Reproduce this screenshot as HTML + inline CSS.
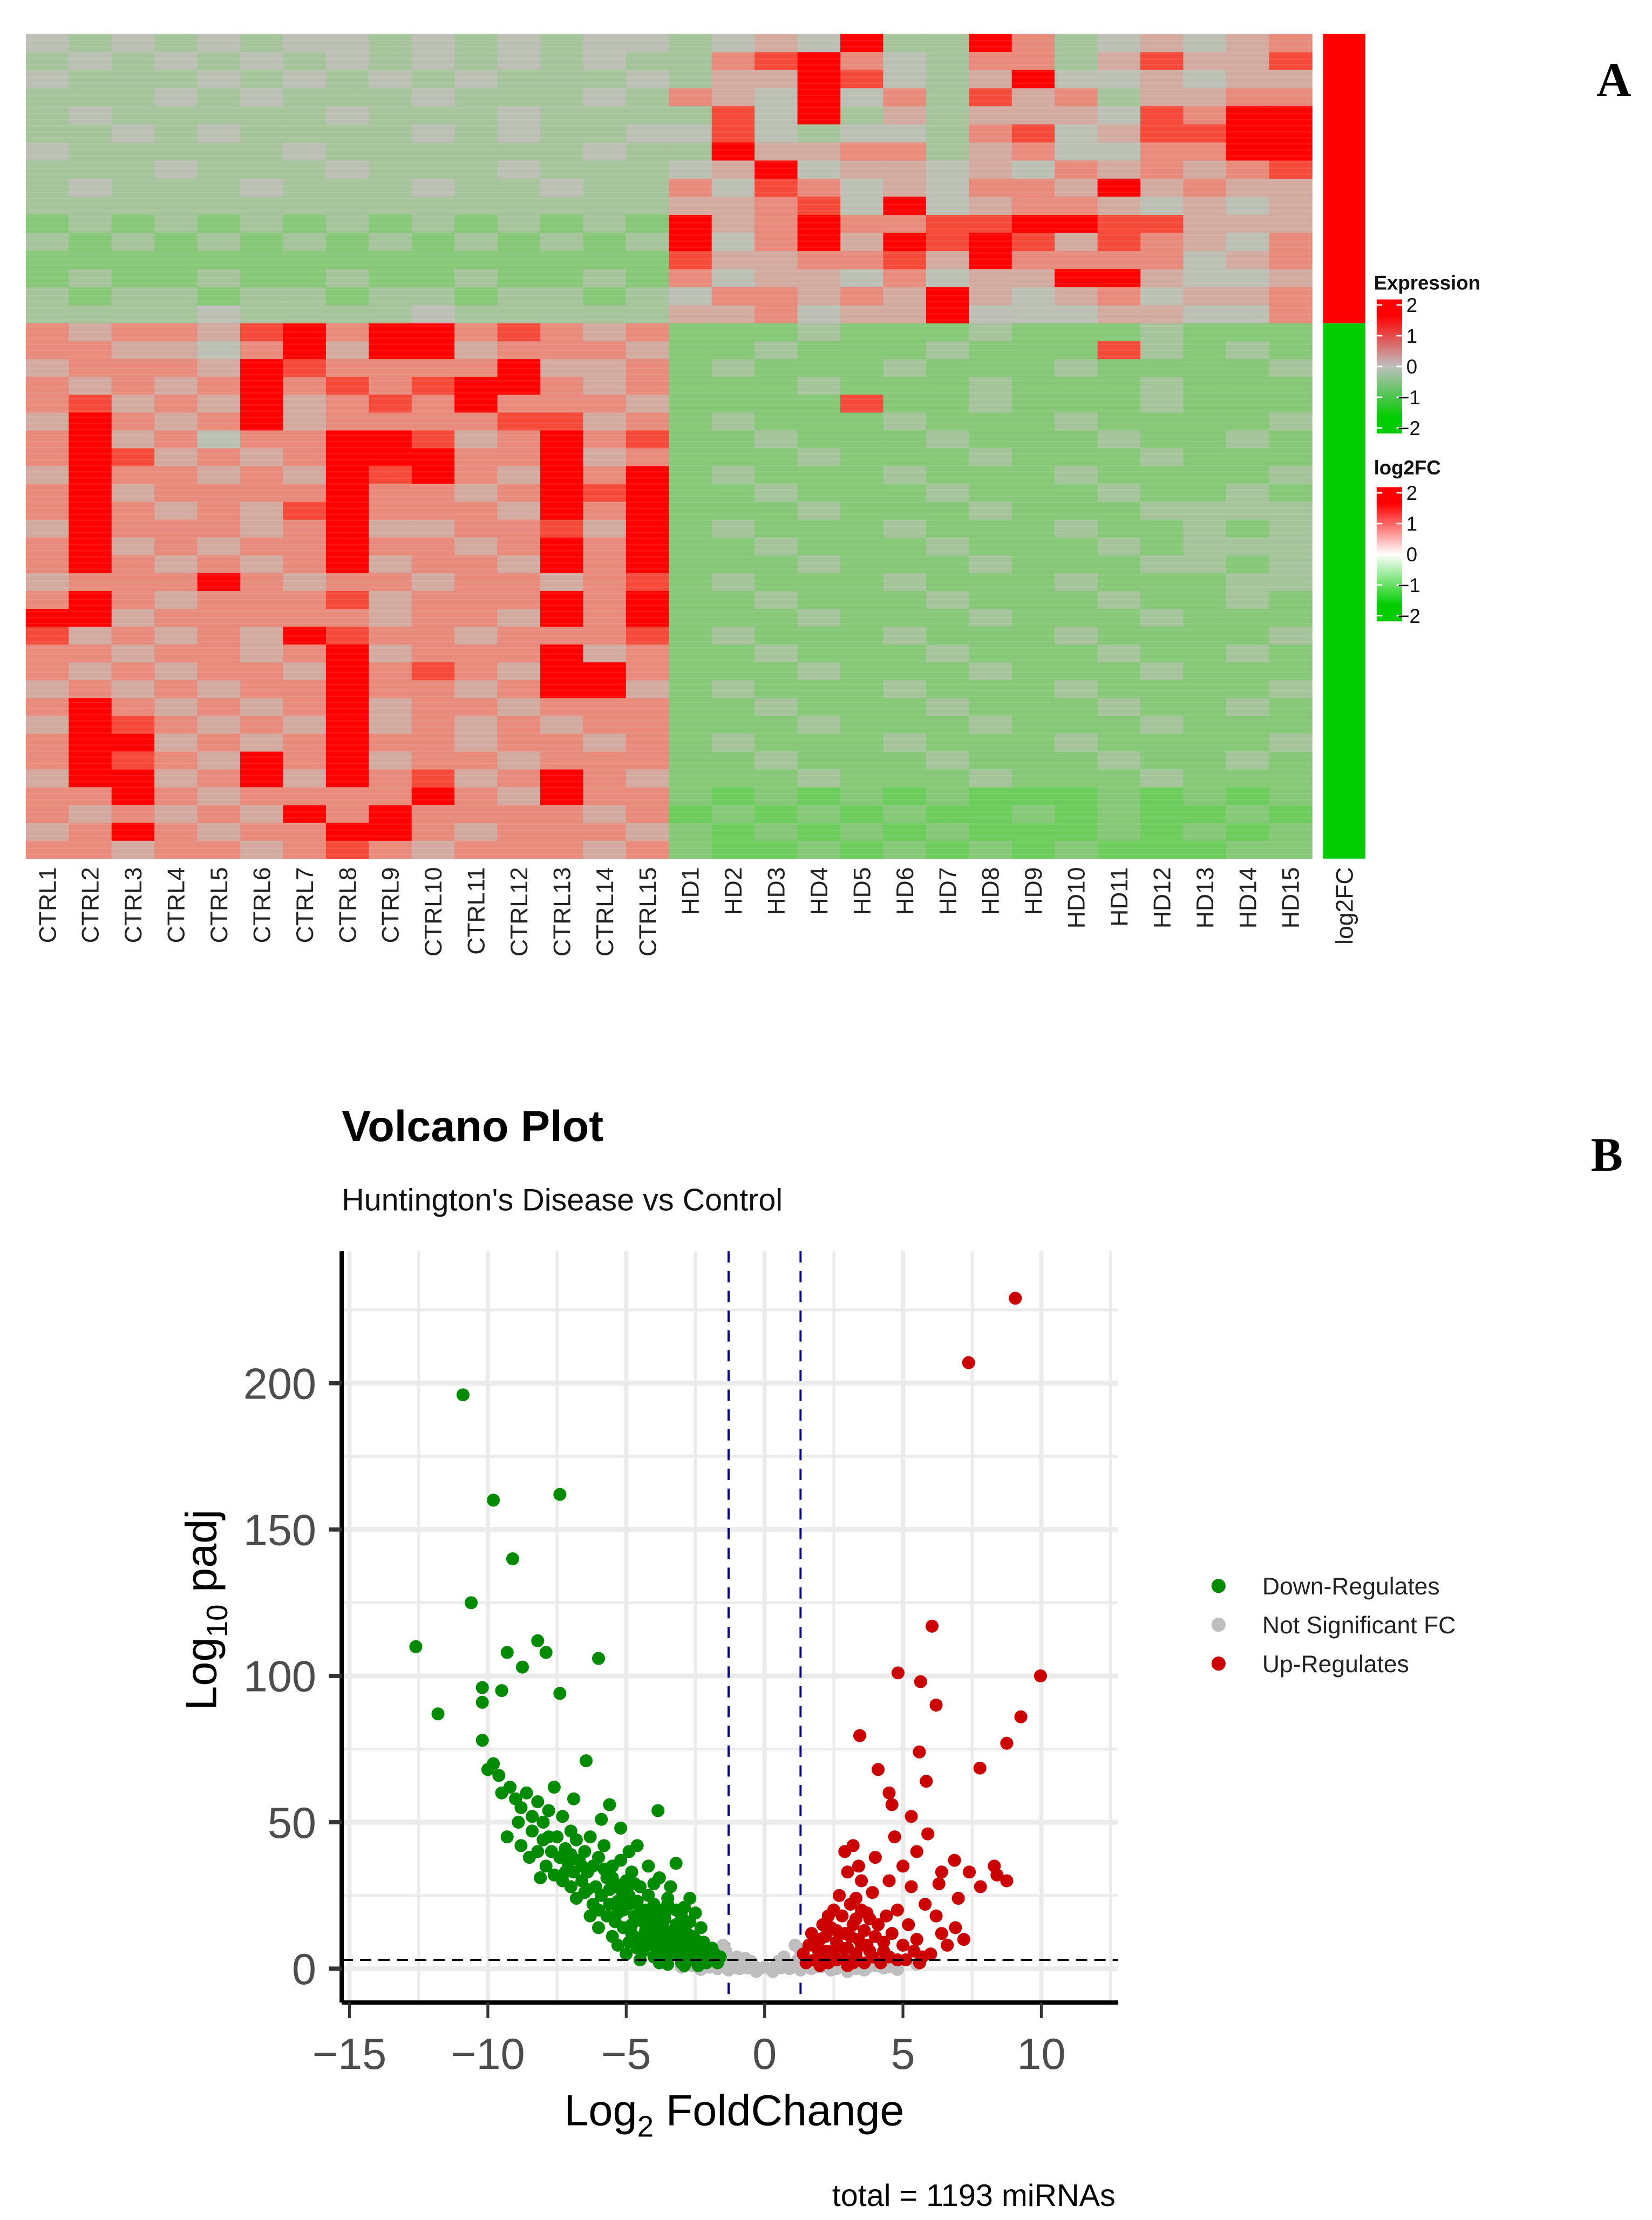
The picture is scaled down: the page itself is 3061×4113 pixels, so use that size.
<!DOCTYPE html>
<html><head><meta charset="utf-8"><style>
html,body{margin:0;padding:0;background:#fff;}
svg{display:block;}
text{font-family:"Liberation Sans",sans-serif;}
</style></head><body>
<svg id="fig" xmlns="http://www.w3.org/2000/svg" width="3061" height="4113" viewBox="0 0 1170 1572" preserveAspectRatio="none">
<rect x="0" y="0" width="1170" height="1572" fill="#fff"/>
<g id="heat"></g>
<g id="volc"></g>
<text x="1143" y="68" text-anchor="middle" font-weight="bold" font-size="34" style="font-family:'Liberation Serif',serif">A</text>
<text x="1138" y="829" text-anchor="middle" font-weight="bold" font-size="34" style="font-family:'Liberation Serif',serif">B</text>
</svg>
<script>
// ---------- Heatmap data ----------
const sampleLabels = ["CTRL1","CTRL2","CTRL3","CTRL4","CTRL5","CTRL6","CTRL7","CTRL8","CTRL9","CTRL10","CTRL11","CTRL12","CTRL13","CTRL14","CTRL15","HD1","HD2","HD3","HD4","HD5","HD6","HD7","HD8","HD9","HD10","HD11","HD12","HD13","HD14","HD15"];
// codes 0..8 map to expression -2..2 (step 0.5)
const topRows = [
"434343443434344345483386345456",
"343434343434343367864366357557",
"433343434343334355874358445455",
"333434333433343654846375635566",
"343333343334333374835355547688",
"334343333434334474344367457788",
"433333433333343385566356446688",
"333433343334333458455454656567",
"343334333433433647645466585655",
"333333333333333556748456654545",
"232323232323232856866778877555",
"323232323232323846858787576546",
"222222222222222755667586666456",
"232232232232232645546455885445",
"323323323323323466565854564556",
"333343333433333556455844455446"];
const bottomRows = [
"656657868867656222322232223222",
"665546858856665223222322273232",
"566658766668556232223222322223",
"656568676788656222322232223222",
"675658567686665222272232223222",
"586568566667756232223222322223",
"685646688756867223222322232232",
"687565688866856222322232223222",
"586656587865868232223222322223",
"685666686656878223222322232232",
"686565786665868222322232223333",
"586665685566758232223222322323",
"685656686656868223222322232333",
"686565685665868222322232223323",
"566686566566567232223222322233",
"686566675666868223222322232232",
"885666665665868222322232223222",
"756565876656667232223222322223",
"665665685666856223222322232232",
"656566586765886222322232223222",
"565656686656885232223222322223",
"686565685665666223222322232232",
"587656585656566222322232223222",
"688565686656656232223222322223",
"687658685665666223222322232232",
"588568586756865222322232223222",
"668656666865866212121211121212",
"656565868666656121212112121121",
"568656688656665212121211121212",
"665665676566656211212121211122"];
const exprPalette = ["#00cc00","#6ccc5c","#86c878","#a6c49c","#bcc0b4","#d2aaa0","#e88a7c","#f54a3a","#ff0000"];

// ---------- Volcano data (log2FC, -log10 padj) ----------
const xTicks = [-15,-10,-5,0,5,10];
const yTicks = [0,50,100,150,200];
const downPts = [[-10.9,196],[-7.4,162],[-9.8,160],[-9.1,140],[-10.6,125],[-12.6,110],[-8.2,112],[-9.3,108],[-7.9,108],[-6.0,106],[-8.75,103],[-11.8,87],[-10.2,96],[-9.5,95],[-10.2,91],[-7.4,94],
[-10.2,78],[-10.0,68],[-9.8,70],[-9.6,66],[-9.5,60],[-9.2,62],[-9.0,58],[-8.8,55],[-8.6,60],[-8.4,52],[-8.2,57],[-8.0,50],[-7.8,54],[-7.5,45],[-7.3,52],[-7.0,47],[-6.8,44],[-6.5,40],[-6.3,45],[-6.0,38],[-5.8,42],[-5.5,35],[-5.2,37],[-5.0,30],[-4.8,33],[-4.5,28],[-4.2,25],[-4.0,29],[-3.8,20],[-3.5,22],[-3.2,15],[-3.0,18],[-2.8,12],[-2.5,10],[-2.3,8],[-2.0,6],[-1.8,5],[-1.6,4],
[-9.3,45],[-8.8,42],[-8.5,38],[-8.2,40],[-7.9,35],[-7.6,32],[-7.3,30],[-7.0,28],[-6.8,24],[-6.5,26],[-6.2,22],[-6.0,20],[-5.7,18],[-5.4,16],[-5.1,14],[-4.8,12],[-4.5,10],[-4.2,8],[-3.9,7],[-3.6,6],[-3.3,5],[-3.0,4],[-2.7,3],[-2.4,3],[-2.1,2],
[-8.0,44],[-7.7,40],[-7.4,38],[-7.1,36],[-6.9,33],[-6.6,30],[-6.4,33],[-6.1,28],[-5.9,25],[-5.6,27],[-5.3,23],[-5.1,20],[-4.9,22],[-4.7,18],[-4.4,16],[-4.1,14],[-3.9,12],[-3.7,15],[-3.4,10],[-3.1,9],[-2.9,8],[-2.6,6],[-2.2,4],[-1.9,3],
[-6.7,37],[-6.2,35],[-5.7,31],[-5.4,29],[-5.0,26],[-4.6,23],[-4.3,20],[-4.0,18],[-3.6,17],[-3.3,13],[-3.0,11],[-2.7,9],[-5.5,11],[-4.9,9],[-4.4,6],[-4.0,4],[-3.6,3],[-6.0,14],[-5.0,5],[-4.5,3],
[-6.45,71],[-5.6,56],[-3.85,54],[-3.2,36],[-2.7,24],[-2.5,19],[-3.5,24],[-8.1,31],[-7.6,62],[-6.9,58],[-5.2,48],[-4.6,42],[-3.8,31],[-2.9,21],[-2.3,14],[-5.9,51],[-4.9,40],[-4.2,35],[-3.4,28],[-7.2,41],[-6.3,18],[-5.3,8],[-3.8,2],[-2.4,1],
[-5.8,34],[-5.5,31],[-5.2,27],[-4.9,25],[-4.7,29],[-4.5,20],[-4.3,13],[-4.1,10],[-3.9,16],[-3.7,9],[-3.5,12],[-3.3,8],[-3.1,6],[-2.9,14],[-2.8,5],[-2.6,11],[-2.5,7],[-2.3,5],[-2.2,9],[-2.0,3],[-1.9,7],[-1.7,2],[-4.8,15],[-4.6,7],[-4.4,11],[-4.2,16],[-5.6,22],[-5.3,19],[-6.4,27],[-6.6,35],[-7.0,39],[-7.2,33],[-7.8,45],[-8.4,47],[-8.9,50],[-3.2,20],[-3.6,19],[-4.0,22],[-2.7,16],[-3.0,2],[-3.5,1.5],[-2.9,1]];
const nsPts = [[-2.6,1],[-2.4,5],[-2.2,2],[-2.0,0.5],[-1.8,3],[-1.6,1],[-1.4,6],[-1.2,2],[-1.0,0.3],[-0.8,1.5],[-0.6,0.2],[-0.4,1],[-0.2,0],[0,0.5],[0.2,0],[0.4,1],[0.6,0.3],[0.8,1.5],[1.0,0.5],[1.2,3],[1.4,1],[1.6,0.4],[1.8,2],[2.0,0.6],[2.2,1],[2.5,0.3],[2.8,1.5],[3.1,0.5],[3.4,1.2],[3.7,0.3],[4.0,1],[4.3,0.2],[-1.0,4],[-1.5,8],[-2.1,7],[1.3,6],[1.1,8],[-0.5,2.5],[0.5,2.5],[-3.0,0.5],[-2.8,2],[2.0,4],[5.5,1.5],[4.5,0.6],[-0.9,0],[0.9,0],[-1.7,0],[1.7,0],[2.6,0],[3.3,0],
[-0.3,-1],[0.3,-1],[-1.3,-0.5],[1.3,-0.5],[-2.3,-0.3],[2.4,-0.5],[3.0,-1],[3.6,-0.5],[4.8,-0.3],[-0.7,3.5],[0.7,4],[-1.1,1.2],[1.5,2.5]];
const upPts = [[9.06,229],[7.37,207],[9.97,100],[6.05,117],[9.26,86],[8.75,77],[7.78,68.5],[4.82,101],[5.64,98],[6.2,90],[3.44,79.6],[5.59,74],[4.1,68],[5.84,64],[4.5,60],[6.86,37],[7.4,33],[8.3,35],[8.75,30],[6.3,29],
[1.4,5],[1.6,8],[1.8,3],[2.0,10],[2.2,6],[2.4,14],[2.5,4],[2.6,9],[2.8,18],[2.9,12],[3.0,7],[3.1,22],[3.2,15],[3.3,5],[3.4,10],[3.5,20],[3.6,13],[3.7,8],[3.8,17],[3.9,4],[4.0,11],[2.1,15],[2.7,25],[2.9,40],[3.2,42],[3.5,30],[3.9,26],[3.0,33],[3.4,35],[4.3,6],[4.6,12],[4.8,20],[5.0,8],[5.2,15],[5.3,28],[5.5,10],[5.8,22],[6.0,5],[6.2,18],[6.4,12],[6.6,8],[6.9,14],[7.2,10],[4.5,30],[5.0,35],[5.5,40],[4.2,2],[4.8,3],[5.6,2],[2.3,2],[1.5,2],[3.6,2],[4.4,18],[4.0,38],[4.7,45],[5.3,52],[5.9,46],[6.4,33],[7.0,24],[7.8,28],[8.4,32],[4.6,56],[2.5,20],[2.2,11],[1.9,7],[3.3,17],[2.6,3],[3.0,1],[2.0,1],
[1.7,12],[2.3,18],[2.6,13],[2.8,7],[3.1,11],[3.3,24],[3.5,8],[3.7,19],[2.1,4],[1.8,9],[2.4,6],[2.9,3],[3.2,2],[3.8,6],[4.1,15],[4.3,9],[4.5,4],[5.1,3],[5.4,6],[5.7,4]];
const legendLabels = ["Down-Regulates","Not Significant FC","Up-Regulates"];
const legendColors = ["#008b00","#bebebe","#cd0000"];
const fcThresh = [-1.3,1.3];
const padjThresh = 3;

const NS="http://www.w3.org/2000/svg";
function mk(tag, attrs, parent){const e=document.createElementNS(NS,tag);for(const k in attrs)e.setAttribute(k,attrs[k]);parent.appendChild(e);return e;}

// ---------- Draw heatmap ----------
const heat=document.getElementById('heat');
const hx0=18.3, colW=30.36, hyTop=24, hySplit=229, hyBot=608;
const topH=(hySplit-hyTop)/topRows.length, botH=(hyBot-hySplit)/bottomRows.length;
function drawRows(rows, y0, h){
  rows.forEach((row,ri)=>{
    for(let ci=0;ci<row.length;ci++){
      const r=mk('rect',{x:(hx0+ci*colW).toFixed(2),y:(y0+ri*h).toFixed(2),width:(colW+0.4).toFixed(2),height:(h+0.3).toFixed(2),fill:exprPalette[+row[ci]]},heat);
      
      
    }
  });
}
drawRows(topRows,hyTop,topH);
drawRows(bottomRows,hySplit,botH);
for(let y=hyTop;y<hyBot;y+=4.3){
  const s=mk('rect',{x:hx0,y:y.toFixed(1),width:colW*30,height:1,fill:'#ffffff',opacity:0.08},heat);
  
  
}
const fcUp=mk('rect',{x:937,y:hyTop,width:30,height:hySplit-hyTop,fill:'#ff0000'},heat);


const fcDn=mk('rect',{x:937,y:hySplit,width:30,height:hyBot-hySplit,fill:'#00cc00'},heat);


sampleLabels.forEach((lab,i)=>{
  const cx=hx0+colW*(i+0.5)+6;
  const t=mk('text',{x:cx,y:614,transform:`rotate(-90 ${cx} 614)`,'text-anchor':'end','font-size':17,fill:'#222'},heat);
  t.textContent=lab;
  
  
});
const fcl=mk('text',{x:958,y:614,transform:'rotate(-90 958 614)','text-anchor':'end','font-size':17,fill:'#222'},heat);
fcl.textContent='log2FC';


const defs=mk('defs',{},heat);
const g1=mk('linearGradient',{id:'gExpr',x1:0,y1:0,x2:0,y2:1},defs);
[["0","#ff0000"],["0.12","#ff0000"],["0.5","#bebebe"],["0.88","#00cc00"],["1","#00cc00"]].forEach(s=>mk('stop',{offset:s[0],'stop-color':s[1]},g1));
const g2=mk('linearGradient',{id:'gFC',x1:0,y1:0,x2:0,y2:1},defs);
[["0","#ff0000"],["0.12","#ff0000"],["0.5","#ffffff"],["0.88","#00cc00"],["1","#00cc00"]].forEach(s=>mk('stop',{offset:s[0],'stop-color':s[1]},g2));
function legendBlock(title,grad,ty,by0,by1,nm){
  const t=mk('text',{x:973,y:ty,'font-size':14,'font-weight':'bold',fill:'#111'},heat);
  t.textContent=title;
  
  
  const b=mk('rect',{x:975,y:by0,width:18,height:by1-by0,fill:`url(#${grad})`},heat);
  
  
  ["2","1","0","\u22121","\u22122"].forEach((l,i)=>{
    const yy=by0+4+i*(by1-by0-8)/4;
    mk('line',{x1:975,x2:979,y1:yy,y2:yy,stroke:'#fff','stroke-width':1},heat);
    mk('line',{x1:989,x2:993,y1:yy,y2:yy,stroke:'#fff','stroke-width':1},heat);
    const tl=mk('text',{x:i>=3?990:996,y:yy+5,'font-size':14,fill:'#111'},heat);
    tl.textContent=l;
    
    
  });
}
legendBlock('Expression','gExpr',205,212,307,'expression');
legendBlock('log2FC','gFC',336,345,440,'log2fc');

// ---------- Draw volcano ----------
const volc=document.getElementById('volc');
const PL=242, PR=792, PT=886, PB=1418;
const X=v=>541.5+19.6*v, Y=v=>1394-2.073*v;
const tt=mk('text',{x:242,y:808,'font-size':31,'font-weight':'bold',fill:'#000'},volc);tt.textContent='Volcano Plot';


const st=mk('text',{x:242,y:857,'font-size':22,fill:'#111'},volc);st.textContent="Huntington's Disease vs Control";


for(let v=-15;v<=12.5;v+=2.5){
  const major=(v%5===0);
  const l=mk('line',{x1:X(v),x2:X(v),y1:PT,y2:PB,stroke:'#ebebeb','stroke-width':major?3:2},volc);
  
  
}
for(let v=-25;v<=250;v+=25){
  const yy=Y(v); if(yy<PT||yy>PB) continue;
  const l=mk('line',{x1:PL,x2:PR,y1:yy,y2:yy,stroke:'#ebebeb','stroke-width':(v%50===0)?3.5:2},volc);
  
  
}
fcThresh.forEach(v=>{
  const l=mk('line',{x1:X(v),x2:X(v),y1:PT,y2:PB,stroke:'#00008b','stroke-width':1.5,'stroke-dasharray':'8,6'},volc);
  
  
});
function drawPts(pts,col,nm){
  pts.forEach(p=>{
    const c=mk('circle',{cx:X(p[0]).toFixed(1),cy:Y(p[1]).toFixed(1),r:4.6,fill:col},volc);
    
    
  });
}
drawPts(nsPts,'#bebebe','point-not-significant');
drawPts(downPts,'#008b00','point-down-regulated');
drawPts(upPts,'#cd0000','point-up-regulated');
const hl=mk('line',{x1:PL,x2:PR,y1:Y(padjThresh),y2:Y(padjThresh),stroke:'#000','stroke-width':1.5,'stroke-dasharray':'8,5'},volc);


const ax=mk('line',{x1:PL,x2:PR,y1:PB,y2:PB,stroke:'#000','stroke-width':3},volc);


const ay=mk('line',{x1:PL,x2:PL,y1:PT,y2:PB,stroke:'#000','stroke-width':3},volc);


xTicks.forEach(v=>{
  mk('line',{x1:X(v),x2:X(v),y1:PB,y2:PB+11,stroke:'#333','stroke-width':2},volc);
  const t=mk('text',{x:X(v),y:1465,'text-anchor':'middle','font-size':31,fill:'#4d4d4d'},volc);
  t.textContent=(v<0?'\u2212'+(-v):''+v);
  
  
});
yTicks.forEach(v=>{
  mk('line',{x1:PL-9,x2:PL,y1:Y(v),y2:Y(v),stroke:'#333','stroke-width':3},volc);
  const t=mk('text',{x:224,y:Y(v)+11,'text-anchor':'end','font-size':31,fill:'#4d4d4d'},volc);
  t.textContent=v;
  
  
});
const xl=mk('text',{x:520,y:1505,'text-anchor':'middle','font-size':31,fill:'#000'},volc);
xl.innerHTML='Log<tspan font-size="21" dy="8">2</tspan><tspan dy="-8"> FoldChange</tspan>';


const yl=mk('text',{x:153,y:1140,transform:'rotate(-90 153 1140)','text-anchor':'middle','font-size':31,fill:'#000'},volc);
yl.innerHTML='Log<tspan font-size="21" dy="8">10</tspan><tspan dy="-8"> padj</tspan>';


const cap=mk('text',{x:790,y:1562,'text-anchor':'end','font-size':22,fill:'#000'},volc);
cap.textContent='total = 1193 miRNAs';


legendLabels.forEach((lab,i)=>{
  const yy=1123+i*27.5;
  const c=mk('circle',{cx:863,cy:yy,r:5,fill:legendColors[i]},volc);
  
  
  const t=mk('text',{x:894,y:yy+6,'font-size':17,fill:'#222'},volc);
  t.textContent=lab;
  
  
});
</script>
</body></html>
